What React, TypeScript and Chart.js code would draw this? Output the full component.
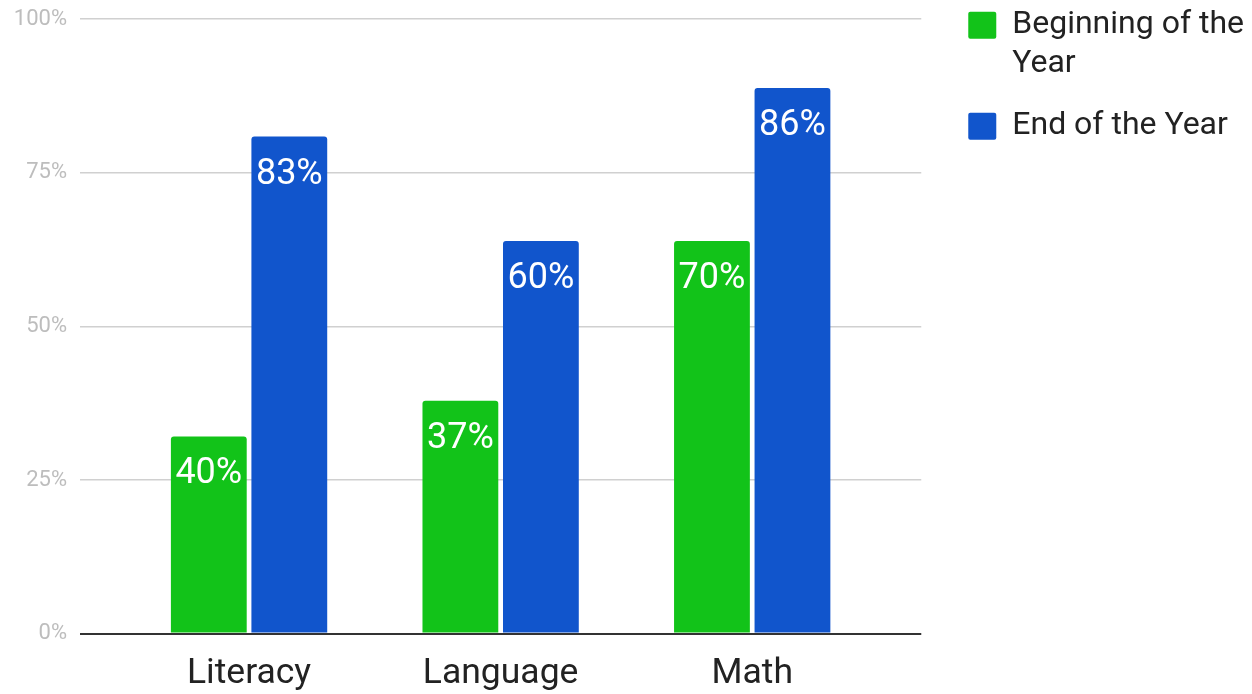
import React, { useEffect, useRef } from "react";
import { Chart, registerables } from "chart.js";

Chart.register(...registerables);

const categories = ["Literacy", "Language", "Math"];
const seriesNames = ["Beginning of the Year", "End of the Year"];
const legendLines: (string | string[])[] = [["Beginning of the", "Year"], "End of the Year"];
const beginningValues = [32.1, 37.9, 63.9];
const endValues = [80.9, 63.9, 88.8];
const beginningLabels = ["40%", "37%", "70%"];
const endLabels = ["83%", "60%", "86%"];
const yTicks = [0, 25, 50, 75, 100];

const GREEN = "#12c319";
const BLUE = "#1155cc";
const SHIFT = 15.2;

const barLabelPlugin = {
  id: "barLabels",
  afterDatasetsDraw(chart: any) {
    const ctx = chart.ctx;
    const labelSets = [beginningLabels, endLabels];
    ctx.save();
    ctx.font = "36px Roboto";
    ctx.fillStyle = "#ffffff";
    ctx.textAlign = "center";
    ctx.textBaseline = "middle";
    chart.data.datasets.forEach((_: any, di: number) => {
      const meta = chart.getDatasetMeta(di);
      meta.data.forEach((bar: any, i: number) => {
        ctx.fillText(labelSets[di][i], bar.x, bar.y + 38);
      });
    });
    ctx.restore();
  },
};

export default function App() {
  const ref = useRef<HTMLCanvasElement | null>(null);

  useEffect(() => {
    if (!ref.current) return;
    Chart.defaults.font.family = "Roboto";
    const chart = new Chart(ref.current, {
      type: "bar",
      data: {
        datasets: [
          {
            label: seriesNames[0],
            data: beginningValues.map((v, i) => ({ x: i, y: v })),
            backgroundColor: GREEN,
            borderRadius: 3,
            categoryPercentage: 0.64,
            barPercentage: 0.9416,
          },
          {
            label: seriesNames[1],
            data: endValues.map((v, i) => ({ x: i, y: v })),
            backgroundColor: BLUE,
            borderRadius: 3,
            categoryPercentage: 0.64,
            barPercentage: 0.9416,
          },
        ],
      },
      options: {
        animation: false,
        responsive: true,
        maintainAspectRatio: false,
        events: [],
        layout: { padding: { top: 0, right: 0, bottom: 0, left: 0 } },
        scales: {
          x: {
            type: "linear",
            offset: false,
            min: -0.672,
            max: 2.672,
            grid: { display: false, drawTicks: false, offset: false },
            border: { display: false },
            afterBuildTicks: (axis: any) => {
              axis.ticks = categories.map((_, i) => ({ value: i }));
            },
            ticks: {
              autoSkip: false,
              maxRotation: 0,
              padding: 19,
              color: "#222222",
              font: { size: 35.5, family: "Roboto" },
              callback: (v: any) => categories[v as number] ?? "",
            },
          },
          y: {
            min: 0,
            max: 100,
            afterBuildTicks: (axis: any) => {
              axis.ticks = yTicks.map((v) => ({ value: v }));
            },
            afterFit: (s: any) => {
              s.width = 80;
              s.paddingTop = 19 + SHIFT;
            },
            grid: {
              drawTicks: false,
              color: (c: any) => (c.tick && c.tick.value === 0 ? "#333333" : "#d0d0d0"),
              lineWidth: (c: any) => (c.tick && c.tick.value === 0 ? 2 : 1.5),
            },
            border: { display: false },
            ticks: {
              padding: 13,
              color: "#bdbdbd",
              font: { size: 22, family: "Roboto" },
              callback: (v: any) => v + "%",
            },
          },
          yR: {
            type: "linear",
            position: "right",
            display: true,
            grid: { display: false, drawTicks: false },
            border: { display: false },
            ticks: { display: false },
            afterFit: (s: any) => {
              s.width = 22.8;
            },
          },
        },
        plugins: {
          tooltip: { enabled: false },
          legend: {
            position: "right",
            align: "start",
            maxWidth: 400,
            labels: {
              boxWidth: 28,
              boxHeight: 27,
              useBorderRadius: true,
              borderRadius: 2,
              padding: 24.2,
              color: "#222222",
              font: { size: 32, family: "Roboto", lineHeight: 1.2 },
              generateLabels: (c: any) =>
                Chart.defaults.plugins.legend.labels
                  .generateLabels(c)
                  .map((item: any, i: number) => ({ ...item, text: legendLines[i] })),
            },
          },
        },
      } as any,
      plugins: [barLabelPlugin],
    });
    return () => chart.destroy();
  }, []);

  return (
    <div
      style={{
        position: "fixed",
        left: 0,
        top: -SHIFT,
        width: 1254,
        height: 694 + SHIFT + 20,
        background: "#fff",
      }}
    >
      <canvas ref={ref} />
    </div>
  );
}
